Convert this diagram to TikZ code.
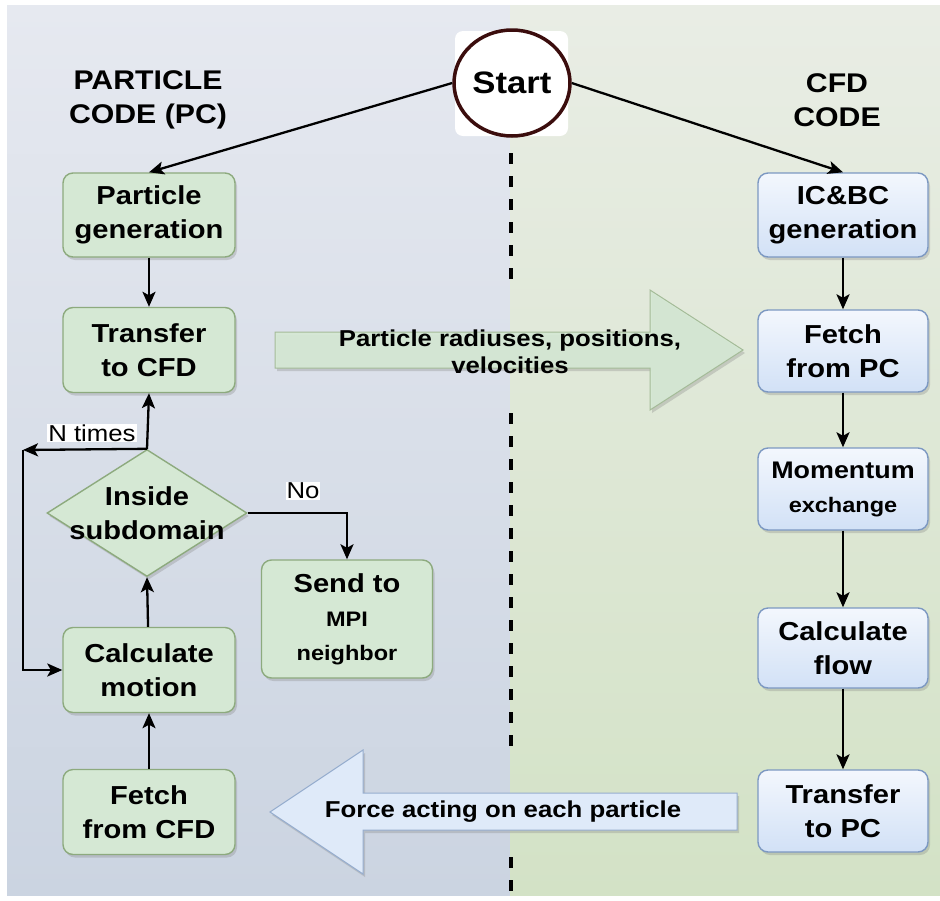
\documentclass[tikz,border=0pt]{standalone}
\usepackage{fontspec}
\setmainfont{Liberation Sans}[FakeStretch=1.12]
\usetikzlibrary{shapes.geometric,arrows.meta,shadows}
\definecolor{lpTop}{HTML}{E6E9F0}
\definecolor{lpBot}{HTML}{CBD4E1}
\definecolor{rpTop}{HTML}{E9EDE5}
\definecolor{rpBot}{HTML}{D3E2C6}
\definecolor{gFill}{HTML}{D5E8D4}
\definecolor{gLine}{HTML}{8DAA7E}
\definecolor{bTop}{HTML}{F3F7FD}
\definecolor{bBot}{HTML}{D2E1F6}
\definecolor{bLine}{HTML}{7C98C2}
\definecolor{startLine}{HTML}{3B0D0D}
\newcommand{\myboxfont}{\fontsize{26}{34}\selectfont\bfseries}
\newcommand{\mysmallfont}{\fontsize{21}{33}\selectfont\bfseries}
\tikzset{
  shad/.style={drop shadow={shadow xshift=2pt, shadow yshift=-3pt, opacity=0.3}},
  gbox/.style={rectangle, rounded corners=10pt, fill=gFill, draw=gLine, line width=1.4pt,
    minimum width=172pt, minimum height=84pt, inner sep=0pt, align=center, font=\myboxfont, text=black, shad},
  bbox/.style={rectangle, rounded corners=10pt, top color=bTop, bottom color=bBot, draw=bLine, line width=1.4pt,
    minimum width=170pt, minimum height=82pt, inner sep=0pt, align=center, font=\myboxfont, text=black, shad},
  conn/.style={line width=2.3pt, draw=black, -{Stealth[length=15pt,width=13pt,inset=3.5pt]}},
  lbl/.style={fill=white, inner sep=1pt, font=\fontsize{23}{26}\selectfont, text=black},
  ttl/.style={align=center, font=\fontsize{27}{34}\selectfont\bfseries, text=black},
  sepline/.style={line width=3.5pt, draw=black, dash pattern=on 11pt off 12pt},
}
\begin{document}
\begin{tikzpicture}[x=1pt,y=-1pt]
\useasboundingbox (0,0) rectangle (940,900);
\fill[white] (0,0) rectangle (940,900);
% panels
\shade[top color=lpTop, bottom color=lpBot] (7,5) rectangle (510,895);
\shade[top color=rpTop, bottom color=rpBot] (510,5) rectangle (940,895);
% separator
\draw[sepline] (511,153) -- (511,290);
\draw[sepline] (511,413) -- (511,758);
\draw[sepline] (511,857) -- (511,895);
% big arrows
\draw[fill=gFill, draw=gLine!80, line width=1pt, fill opacity=0.92, shad]
  (275,332) -- (650,332) -- (650,290) -- (743,350) -- (650,410) -- (650,368) -- (275,368) -- cycle;
\node[align=center, font=\fontsize{23}{27}\selectfont\bfseries, text=black] (ptxt) at (510,352)
  {Particle radiuses, positions,\\velocities};
\draw[fill=bBot!70!white, draw=bLine!80, line width=1pt, shad]
  (737,793) -- (363,793) -- (363,750) -- (270,812) -- (363,874) -- (363,830) -- (737,830) -- cycle;
\node[font=\fontsize{23}{27}\selectfont\bfseries, text=black] (ftxt) at (503,812) {Force acting on each particle};
% titles
\node[ttl] (lt) at (148,100) {PARTICLE\\CODE (PC)};
\node[ttl] (rt) at (837,100) {CFD\\CODE};
% start
\fill[white, rounded corners=8pt] (455,31) rectangle (568,136);
\node[ellipse, draw=startLine, line width=3.5pt, fill=white, minimum width=116pt, minimum height=106pt, inner sep=0pt,
  font=\fontsize{31}{34}\selectfont\bfseries, text=black] (start) at (512,83) {Start};
% left column
\node[gbox] (pg) at (149,215) {Particle\\generation};
\node[gbox, minimum height=85pt] (tcfd) at (149,350) {Transfer\\to CFD};
\node[diamond, fill=gFill, draw=gLine, line width=1.4pt, minimum width=200pt, minimum height=127pt, inner sep=0pt, shad] (dia) at (147,513) {};
\node[align=center, font=\myboxfont, text=black] (diat) at (dia.center) {Inside\\subdomain};
\node[gbox, minimum height=85pt] (cm) at (149,670) {Calculate\\motion};
\node[gbox, minimum height=85pt] (fcfd) at (149,812) {Fetch\\from CFD};
\node[gbox, minimum width=171pt, minimum height=118pt] (send) at (347,619)
  {Send to\\{\mysmallfont MPI}\\{\mysmallfont neighbor}};
% right column
\node[bbox, minimum height=84pt] (icbc) at (843,215) {IC\&BC\\generation};
\node[bbox] (fpc) at (843,351) {Fetch\\from PC};
\node[bbox] (mom) at (843,489) {{\fontsize{24}{33}\selectfont\bfseries Momentum}\\{\mysmallfont exchange}};
\node[bbox, minimum height=80pt] (cflow) at (843,648) {Calculate\\flow};
\node[bbox] (tpc) at (843,811) {Transfer\\to PC};
% connectors
\draw[conn] (start.west) -- (pg.north);
\draw[conn] (start.east) -- (icbc.north);
\draw[conn] (pg) -- (tcfd);
\draw[conn] (dia.north) -- (tcfd.south);
\draw[conn] (cm) -- (dia.south);
\draw[conn] (fcfd) -- (cm);
\coordinate (loop) at (23,450);
\draw[conn] (dia.north) -- (loop);
\draw[conn] (loop) |- (cm.west);
\draw[conn] (dia.east) -| (send.north);
\draw[conn] (icbc) -- (fpc);
\draw[conn] (fpc) -- (mom);
\draw[conn] (mom) -- (cflow);
\draw[conn] (cflow) -- (tpc);
% labels
\node[lbl] (nt) at (92,433) {N times};
\node[lbl] (no) at (303,491) {No};
\end{tikzpicture}
\end{document}
